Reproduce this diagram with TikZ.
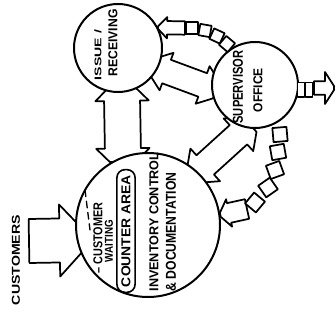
\documentclass[tikz,border=0pt]{standalone}
\usepackage{fontspec}
\setmainfont{Liberation Sans}
\usepackage{graphicx}
\usetikzlibrary{calc,backgrounds}
\newdimen\pxd \pxd=0.75pt
\newcommand{\fitx}[3]{\resizebox{#1\pxd}{#2\pxd}{\bfseries #3}}
% double block arrow: A B w h L t ext
\newcommand{\dblarrow}[7]{%
 \path ($(#1)!#5!(#2)$) coordinate (da1) ($(#2)!#5!(#1)$) coordinate (da2)
   ($(#1)!-#7!(#2)$) coordinate (dt1) ($(#2)!-#7!(#1)$) coordinate (dt2);
 \begin{pgfonlayer}{background}
 \filldraw[barrow] ($(dt1)!#6!90:(dt2)$) -- ($(da1)!#4!90:(dt2)$) -- ($(da1)!#3!90:(dt2)$)
   -- ($(da2)!#3!-90:(dt1)$) -- ($(da2)!#4!-90:(dt1)$) -- ($(dt2)!#6!-90:(dt1)$)
   -- ($(dt2)!#6!90:(dt1)$) -- ($(da2)!#4!90:(dt1)$) -- ($(da2)!#3!90:(dt1)$)
   -- ($(da1)!#3!-90:(dt2)$) -- ($(da1)!#4!-90:(dt2)$) -- ($(dt1)!#6!-90:(dt2)$) -- cycle;
 \end{pgfonlayer}}
% single block arrow: tail tip w h L t ext
\newcommand{\sglarrow}[7]{%
 \path ($(#2)!#5!(#1)$) coordinate (sa2) ($(#2)!-#7!(#1)$) coordinate (st2);
 \begin{pgfonlayer}{background}
 \filldraw[barrow] ($(#1)!#3!90:(#2)$) -- ($(sa2)!#3!-90:(#1)$) -- ($(sa2)!#4!-90:(#1)$)
   -- ($(st2)!#6!-90:(#1)$) -- ($(st2)!#6!90:(#1)$) -- ($(sa2)!#4!90:(#1)$)
   -- ($(sa2)!#3!90:(#1)$) -- ($(#1)!#3!-90:(#2)$) -- cycle;
 \end{pgfonlayer}}
\begin{document}
\begin{tikzpicture}[x=0.75pt,y=-0.75pt,line join=round,line cap=round,
  bub/.style={circle,draw,line width=1.5pt,fill=white,inner sep=0pt},
  barrow/.style={draw,fill=white,line width=1.3pt,line join=round},
  sq/.style={draw,fill=white,line width=1.3pt,minimum size=8.6pt,inner sep=0pt},
  bigsq/.style={sq,minimum size=10.6pt},
  rect/.style={draw,fill=white,line width=1.2pt,minimum width=5.4pt,minimum height=10.8pt,inner sep=0pt},
  lbl/.style={rotate=90,inner sep=0pt}]
\useasboundingbox (0,0) rectangle (336,322);
\begin{pgfonlayer}{background}
\fill[white] (0,0) rectangle (336,322);
\end{pgfonlayer}

% circles
\node[bub,minimum size=108pt] (big) at (148,225) {};
\node[bub,minimum size=66pt] (iss) at (118,48) {};
\node[bub,minimum size=64.5pt] (sup) at (255,85) {};

% free ends
\coordinate (custtail) at (29,241);
\coordinate (c1tail) at (185,28);
\coordinate (c2tail) at (314,88);
\coordinate (c2tip) at (334,88);
\coordinate (c3tail) at (247,209);

% block arrows
\dblarrow{iss.-85}{big.110}{13.5pt}{20pt}{6pt}{10pt}{4pt}
\dblarrow{iss.-27}{sup.184}{9.4pt}{15pt}{6.75pt}{6.75pt}{4pt}
\dblarrow{sup.-102}{big.47}{9.75pt}{16.5pt}{7.5pt}{7.5pt}{4pt}
\sglarrow{custtail}{big.192}{16.5pt}{27pt}{12.75pt}{9pt}{4pt}
\sglarrow{c1tail}{iss.27}{5pt}{8pt}{6.75pt}{1pt}{0pt}
\sglarrow{c2tail}{c2tip}{5pt}{12pt}{6.75pt}{1.5pt}{0pt}
\sglarrow{c3tail}{big.8}{7.5pt}{10.5pt}{6.75pt}{1.5pt}{0pt}

% chains of boxes
\node[sq,rotate=0] (s1) at (192,28) {};
\node[sq,rotate=-10] (s2) at (205,30.5) {};
\node[sq,rotate=-25] (s3) at (217,36) {};
\node[sq,rotate=-40] (s4) at (227,44) {};
\node[rect] (r1) at (301,89.5) {};
\node[rect] (r2) at (309,89.5) {};
\node[bigsq,rotate=5] (s5) at (280,134.5) {};
\node[bigsq,rotate=10] (s6) at (278,152) {};
\node[bigsq,rotate=20] (s7) at (275,170) {};
\node[bigsq,rotate=35] (s8) at (268,187.5) {};
\node[bigsq,rotate=50] (s9) at (255,202.5) {};

% texts
\node[lbl] (tcust) at (16,260) {\fitx{90}{8}{CUSTOMERS}};
\draw[line width=1pt,dash pattern=on 5pt off 3.5pt] (85,190) -- (90,230);
\node[lbl] (tcw1) at (98,238) {\fitx{71}{9}{– CUSTOMER}};
\node[lbl] (tcw2) at (109,241) {\fitx{42}{8}{WAITING}};
\node[lbl,draw,line width=1.2pt,rounded corners=6pt,inner xsep=4pt,inner ysep=3.4pt] (tca) at (126,231) {\fitx{112}{9}{COUNTER AREA}};
\node[lbl] (tinv) at (154,222) {\fitx{139}{9}{INVENTORY CONTROL}};
\node[lbl] (tdoc) at (171,232) {\fitx{119}{10}{\& DOCUMENTATION}};
\node[lbl] (tis) at (98,55) {\fitx{50}{7}{ISSUE /}};
\node[lbl] (trec) at (113,43) {\fitx{67}{9}{RECEIVING}};
\node[lbl] (tsup) at (238,87) {\fitx{73}{10}{SUPERVISOR}};
\node[lbl] (toff) at (258,90) {\fitx{44}{9}{OFFICE}};
\end{tikzpicture}
\end{document}
